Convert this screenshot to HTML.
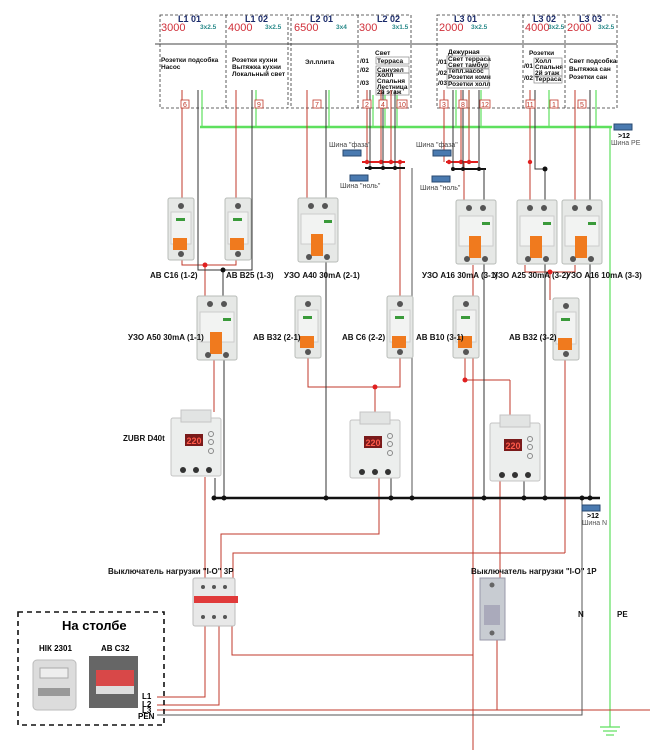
<!DOCTYPE html>
<html><head><meta charset="utf-8"><style>
body{margin:0;background:#fff}
svg{display:block;font-family:"Liberation Sans",sans-serif}
.b{font-weight:bold}
</style></head><body>
<svg width="653" height="750" viewBox="0 0 653 750" xmlns="http://www.w3.org/2000/svg">
<defs>
<g id="mcb">
<rect x="0" y="0" width="26" height="62" rx="2" fill="#e6e8e6" stroke="#b8bcb8"/>
<rect x="3" y="14" width="20" height="32" fill="#f2f3f2" stroke="#ccc"/>
<circle cx="13" cy="8" r="3" fill="#555"/>
<rect x="8" y="20" width="9" height="3" fill="#3a9a3a"/>
<rect x="5" y="40" width="14" height="12" fill="#f07a1e"/>
<circle cx="13" cy="56" r="3" fill="#555"/>
</g>
<g id="rcd">
<rect x="0" y="0" width="40" height="64" rx="2" fill="#e6e8e6" stroke="#b8bcb8"/>
<rect x="3" y="16" width="34" height="30" fill="#f2f3f2" stroke="#ccc"/>
<circle cx="13" cy="8" r="3" fill="#555"/><circle cx="27" cy="8" r="3" fill="#555"/>
<rect x="26" y="22" width="8" height="3" fill="#3a9a3a"/>
<rect x="13" y="36" width="12" height="22" fill="#f07a1e"/>
<circle cx="11" cy="59" r="3" fill="#555"/><circle cx="29" cy="59" r="3" fill="#555"/>
</g>
<g id="relay">
<rect x="0" y="8" width="50" height="58" rx="2" fill="#eceeed" stroke="#c4c4c4"/>
<rect x="10" y="0" width="30" height="12" fill="#e2e4e3" stroke="#c4c4c4"/>
<rect x="14" y="24" width="18" height="12" fill="#7a1a1a"/>
<text x="15.5" y="34" font-size="9" fill="#ff5a4a" class="b">220</text>
<circle cx="40" cy="24" r="2.5" fill="none" stroke="#888"/><circle cx="40" cy="32" r="2.5" fill="none" stroke="#888"/><circle cx="40" cy="41" r="2.5" fill="none" stroke="#888"/>
<circle cx="12" cy="60" r="3" fill="#333"/><circle cx="25" cy="60" r="3" fill="#333"/><circle cx="38" cy="60" r="3" fill="#333"/>
</g>
<g id="busi"><rect x="0" y="0" width="18" height="6" fill="#4a7ab0" stroke="#2a4a70"/></g>
</defs>

<g fill="none" stroke="#333" stroke-dasharray="3,2" stroke-width="0.8">
<rect x="160" y="15" width="128" height="93"/><line x1="226" y1="15" x2="226" y2="108"/>
<rect x="291" y="15" width="120" height="93"/><line x1="358" y1="15" x2="358" y2="108"/>
<rect x="437" y="15" width="180" height="93"/><line x1="523" y1="15" x2="523" y2="108"/><line x1="565" y1="15" x2="565" y2="108"/>
</g>
<line x1="155" y1="44" x2="617" y2="44" stroke="#444" stroke-width="1"/>
<g font-size="9" class="b" fill="#1a2a6a">
<text x="178" y="22">L1 01</text><text x="245" y="22">L1 02</text><text x="310" y="22">L2 01</text><text x="377" y="22">L2 02</text>
<text x="454" y="22">L3 01</text><text x="533" y="22">L3 02</text><text x="579" y="22">L3 03</text>
</g>
<g font-size="11" fill="#d0303a">
<text x="161" y="31">3000</text><text x="228" y="31">4000</text><text x="294" y="31">6500</text><text x="359" y="31">300</text>
<text x="439" y="31">2000</text><text x="525" y="31">4000</text><text x="567" y="31">2000</text>
</g>
<g font-size="6.5" class="b" fill="#2a8a8a">
<text x="200" y="29">3x2.5</text><text x="265" y="29">3x2.5</text><text x="336" y="29">3x4</text><text x="392" y="29">3x1.5</text>
<text x="471" y="29">3x2.5</text><text x="548" y="29">3x2.5</text><text x="598" y="29">3x2.5</text>
</g>
<g font-size="6.5" class="b" fill="#111">
<text x="161" y="62">Розетки подсобка</text><text x="161" y="69">Насос</text>
<text x="232" y="62">Розетки кухни</text><text x="232" y="69">Вытяжка кухни</text><text x="232" y="76">Локальный свет</text>
<text x="305" y="64">Эл.плита</text>
<text x="375" y="55">Свет</text>
<text x="360" y="63">/01</text><text x="360" y="72">/02</text><text x="360" y="85">/03</text>
<text x="377" y="63">Терраса</text><text x="377" y="72">Санузел</text>
<text x="377" y="77">Холл</text><text x="377" y="83">Спальня</text><text x="377" y="89">Лестница</text><text x="377" y="94">2й этаж</text>
<text x="448" y="54">Дежурная</text>
<text x="438" y="64">/01</text><text x="438" y="75">/02</text><text x="438" y="85">/03</text>
<text x="448" y="61">Свет терраса</text><text x="448" y="67">Свет тамбур</text>
<text x="448" y="73">Тепл.насос</text><text x="448" y="79">Розетки комн</text><text x="448" y="86">Розетки холл</text>
<text x="529" y="55">Розетки</text>
<text x="524" y="68">/01</text><text x="524" y="80">/02</text>
<text x="535" y="63">Холл</text><text x="535" y="69">Спальня</text><text x="535" y="75">2й этаж</text><text x="535" y="81">Терраса</text>
<text x="569" y="63">Свет подсобка</text><text x="569" y="71">Вытяжка сан</text><text x="569" y="79">Розетки сан</text>
</g>
<g fill="none" stroke="#888" stroke-width="0.7">
<rect x="376" y="57" width="33" height="7"/><rect x="376" y="66" width="33" height="7"/><rect x="376" y="73" width="33" height="22"/>
<rect x="447" y="56" width="42" height="12"/><rect x="447" y="69" width="42" height="12"/><rect x="447" y="81" width="42" height="7"/>
<rect x="534" y="58" width="28" height="18"/><rect x="534" y="76" width="28" height="7"/>
</g>

<g stroke="#5ee05e" stroke-width="1.2" fill="none">
<line x1="202" y1="90" x2="202" y2="127"/><line x1="256" y1="90" x2="256" y2="127"/><line x1="329" y1="90" x2="329" y2="127"/>
<line x1="373" y1="95" x2="373" y2="127"/><line x1="385" y1="95" x2="385" y2="127"/><line x1="397" y1="95" x2="397" y2="127"/>
<line x1="456" y1="90" x2="456" y2="127"/><line x1="469" y1="90" x2="469" y2="127"/><line x1="481" y1="90" x2="481" y2="127"/>
<line x1="549" y1="90" x2="549" y2="127"/><line x1="596" y1="90" x2="596" y2="127"/>
<line x1="610" y1="127" x2="610" y2="727"/>
</g>
<line x1="200" y1="127" x2="612" y2="127" stroke="#5ee05e" stroke-width="2.5"/>
<g stroke="#5ee05e" stroke-width="1.2"><line x1="600" y1="727" x2="620" y2="727"/><line x1="603" y1="731" x2="617" y2="731"/><line x1="606" y1="735" x2="614" y2="735"/></g>
<use href="#busi" x="614" y="124"/>
<text x="618" y="138" font-size="7" class="b">&gt;12</text><text x="611" y="145" font-size="7" fill="#555">Шина PE</text>

<g stroke="#c0392b" stroke-width="1" fill="none">
<polyline points="182,90 182,265 236,265 236,90"/>
<line x1="205" y1="265" x2="205" y2="300"/>
<line x1="307" y1="90" x2="307" y2="200"/>
<line x1="367" y1="90" x2="367" y2="162"/><line x1="381" y1="90" x2="381" y2="162"/><line x1="391" y1="90" x2="391" y2="162"/>
<line x1="362" y1="162" x2="405" y2="162" stroke-width="2" stroke="#e02020"/>
<line x1="400" y1="162" x2="400" y2="300"/>
<polyline points="308,358 308,387 400,387 400,358"/>
<line x1="375" y1="387" x2="375" y2="412"/>
<line x1="444" y1="90" x2="444" y2="162"/><line x1="461" y1="90" x2="461" y2="162"/><line x1="469" y1="90" x2="469" y2="162"/>
<line x1="446" y1="162" x2="478" y2="162" stroke-width="2" stroke="#e02020"/>
<line x1="464" y1="162" x2="464" y2="200"/>
<line x1="473" y1="265" x2="473" y2="655"/>
<polyline points="530,90 530,162 530,200"/>
<polyline points="575,90 575,200"/>
<polyline points="525,265 525,272 575,272 575,265"/><line x1="550" y1="272" x2="550" y2="300"/>
<line x1="565" y1="358" x2="565" y2="553"/>
<line x1="465" y1="358" x2="465" y2="380"/><line x1="465" y1="380" x2="510" y2="380"/><line x1="510" y1="380" x2="510" y2="415"/>
<line x1="214" y1="358" x2="214" y2="412"/>
<polyline points="205,477 205,580"/>
<polyline points="379,478 379,534 221,534 221,580"/>
<polyline points="565,553 233,553 233,580"/>
<polyline points="500,481 500,580"/>
<polyline points="205,625 205,697 157,697"/>
<polyline points="219,625 219,705 157,705"/>
<polyline points="232,625 232,655 473,655"/>
<polyline points="157,710 650,710"/>
<line x1="497" y1="640" x2="497" y2="710"/>
<line x1="473" y1="655" x2="473" y2="750"/>
</g>
<g fill="#e02020">
<circle cx="205" cy="265" r="2.5"/><circle cx="375" cy="387" r="2.5"/><circle cx="550" cy="272" r="2.5"/><circle cx="465" cy="380" r="2.5"/>
<circle cx="367" cy="162" r="2.2"/><circle cx="381" cy="162" r="2.2"/><circle cx="391" cy="162" r="2.2"/><circle cx="400" cy="162" r="2.2"/>
<circle cx="449" cy="162" r="2.2"/><circle cx="461" cy="162" r="2.2"/><circle cx="469" cy="162" r="2.2"/><circle cx="530" cy="162" r="2.2"/>
</g>

<g stroke="#333" stroke-width="1" fill="none">
<polyline points="198,90 198,270 252,270 252,90"/>
<line x1="223" y1="270" x2="223" y2="300"/>
<line x1="326" y1="90" x2="326" y2="498"/>
<line x1="370" y1="90" x2="370" y2="168"/><line x1="383" y1="90" x2="383" y2="168"/><line x1="395" y1="90" x2="395" y2="168"/>
<line x1="365" y1="168" x2="405" y2="168" stroke-width="2" stroke="#111"/>
<line x1="412" y1="168" x2="412" y2="498" stroke="#555"/>
<line x1="453" y1="90" x2="453" y2="168"/><line x1="463" y1="90" x2="463" y2="168"/><line x1="479" y1="90" x2="479" y2="168"/>
<line x1="452" y1="169" x2="486" y2="169" stroke-width="2" stroke="#111"/>
<line x1="484" y1="169" x2="484" y2="498"/>
<polyline points="535,90 535,169 545,169 545,498"/>
<line x1="590" y1="90" x2="590" y2="498"/>
<line x1="224" y1="358" x2="224" y2="498"/><line x1="215" y1="478" x2="215" y2="498"/>
<line x1="391" y1="478" x2="391" y2="498"/><line x1="524" y1="481" x2="524" y2="498"/>
<line x1="212" y1="498" x2="600" y2="498" stroke-width="2.5" stroke="#111"/>
<polyline points="582,498 582,715 157,715" stroke="#555"/>
</g>
<g fill="#111">
<circle cx="223" cy="270" r="2.5"/><circle cx="545" cy="169" r="2.5"/>
<circle cx="214" cy="498" r="2.5"/><circle cx="224" cy="498" r="2.5"/><circle cx="326" cy="498" r="2.5"/><circle cx="391" cy="498" r="2.5"/><circle cx="412" cy="498" r="2.5"/><circle cx="484" cy="498" r="2.5"/><circle cx="524" cy="498" r="2.5"/><circle cx="545" cy="498" r="2.5"/><circle cx="582" cy="498" r="2.5"/><circle cx="590" cy="498" r="2.5"/>
<circle cx="370" cy="168" r="2"/><circle cx="383" cy="168" r="2"/><circle cx="395" cy="168" r="2"/><circle cx="453" cy="169" r="2"/><circle cx="463" cy="169" r="2"/><circle cx="479" cy="169" r="2"/>
</g>

<g font-size="7" fill="#c0392b" text-anchor="middle">
<g fill="#fff" stroke="#c0392b" stroke-width="0.8">
<rect x="181" y="100" width="8" height="8"/><rect x="255" y="100" width="8" height="8"/><rect x="313" y="100" width="8" height="8"/>
<rect x="363" y="100" width="8" height="8"/><rect x="379" y="100" width="8" height="8"/><rect x="397" y="100" width="10" height="8"/>
<rect x="440" y="100" width="8" height="8"/><rect x="459" y="100" width="8" height="8"/><rect x="480" y="100" width="10" height="8"/>
<rect x="526" y="100" width="9" height="8"/><rect x="550" y="100" width="8" height="8"/><rect x="578" y="100" width="8" height="8"/>
</g>
<text x="185" y="107">6</text><text x="259" y="107">9</text><text x="317" y="107">7</text><text x="367" y="107">2</text><text x="383" y="107">4</text><text x="402" y="107">10</text>
<text x="444" y="107">3</text><text x="463" y="107">8</text><text x="485" y="107">12</text><text x="530" y="107">11</text><text x="554" y="107">1</text><text x="582" y="107">5</text>
</g>

<g font-size="7" fill="#444">
<text x="329" y="147">Шина "фаза"</text><text x="416" y="147">Шина "фаза"</text>
<text x="340" y="188">Шина "ноль"</text><text x="420" y="190">Шина "ноль"</text>
</g>
<use href="#busi" x="343" y="150"/><use href="#busi" x="433" y="150"/><use href="#busi" x="350" y="175"/><use href="#busi" x="432" y="176"/>
<use href="#busi" x="582" y="505"/>
<text x="587" y="518" font-size="7" class="b">&gt;12</text><text x="582" y="525" font-size="7" fill="#555">Шина N</text>

<use href="#mcb" x="168" y="198"/><use href="#mcb" x="225" y="198"/>
<use href="#rcd" x="298" y="198"/>
<use href="#rcd" x="456" y="200"/><use href="#rcd" x="517" y="200"/><use href="#rcd" x="562" y="200"/>
<use href="#rcd" x="197" y="296"/>
<use href="#mcb" x="295" y="296"/><use href="#mcb" x="387" y="296"/><use href="#mcb" x="453" y="296"/><use href="#mcb" x="553" y="298"/>
<use href="#relay" x="171" y="410"/><use href="#relay" x="350" y="412"/><use href="#relay" x="490" y="415"/>
<rect x="193" y="578" width="42" height="48" rx="2" fill="#e8e8e8" stroke="#bbb"/>
<rect x="194" y="596" width="44" height="7" fill="#e03a3a"/>
<circle cx="203" cy="587" r="2" fill="#555"/><circle cx="214" cy="587" r="2" fill="#555"/><circle cx="225" cy="587" r="2" fill="#555"/>
<circle cx="203" cy="617" r="2" fill="#555"/><circle cx="214" cy="617" r="2" fill="#555"/><circle cx="225" cy="617" r="2" fill="#555"/>
<rect x="480" y="578" width="25" height="62" fill="#c8ccd2" stroke="#99a"/>
<rect x="484" y="605" width="16" height="20" fill="#aab"/>
<circle cx="492" cy="585" r="2.5" fill="#666"/><circle cx="492" cy="633" r="2.5" fill="#666"/>

<g font-size="8" class="b" fill="#111">
<text x="150" y="278">АВ С16 (1-2)</text><text x="226" y="278">АВ В25 (1-3)</text><text x="284" y="278">УЗО А40 30mA (2-1)</text>
<text x="422" y="278">УЗО А16 30mA (3-1)</text><text x="493" y="278">УЗО А25 30mA (3-2)</text><text x="566" y="278">УЗО А16 10mA (3-3)</text>
<text x="128" y="340">УЗО А50 30mA (1-1)</text><text x="253" y="340">АВ В32 (2-1)</text><text x="342" y="340">АВ С6 (2-2)</text>
<text x="416" y="340">АВ В10 (3-1)</text><text x="509" y="340">АВ В32 (3-2)</text>
<text x="123" y="441">ZUBR D40t</text>
<text x="108" y="574">Выключатель нагрузки "I-O" 3P</text>
<text x="471" y="574">Выключатель нагрузки "I-O" 1P</text>
<text x="578" y="617">N</text><text x="617" y="617">PE</text>
</g>

<rect x="18" y="612" width="146" height="113" fill="none" stroke="#111" stroke-width="1.6" stroke-dasharray="5,4"/>
<text x="62" y="630" font-size="13" class="b">На столбе</text>
<text x="39" y="651" font-size="8" class="b">НІК 2301</text><text x="101" y="651" font-size="8" class="b">АВ С32</text>
<rect x="33" y="660" width="43" height="50" rx="4" fill="#dcdcdc" stroke="#bbb"/>
<rect x="40" y="668" width="28" height="10" fill="#eee" stroke="#aaa"/>
<rect x="38" y="688" width="32" height="8" fill="#999"/>
<rect x="89" y="656" width="49" height="52" fill="#666"/>
<rect x="96" y="670" width="38" height="16" fill="#d84848"/>
<rect x="96" y="686" width="38" height="8" fill="#ddd"/>
<g font-size="8" class="b"><text x="142" y="699">L1</text><text x="142" y="707">L2</text><text x="142" y="713">L3</text><text x="138" y="719">PEN</text></g>
</svg>
</body></html>
